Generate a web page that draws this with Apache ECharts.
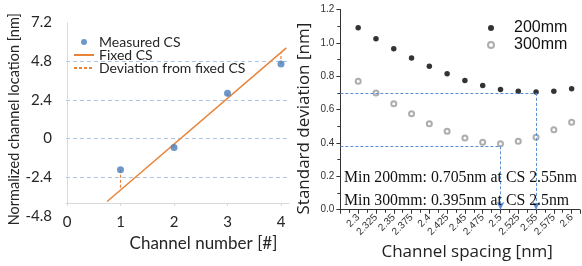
<!DOCTYPE html>
<html><head><meta charset="utf-8">
<script src="https://cdn.jsdelivr.net/npm/echarts@6/dist/echarts.min.js"></script>
<style>html,body{margin:0;padding:0;background:#fff}#c{width:582px;height:266px}</style>
</head><body><div id="c"></div>
<script>
// ---- Left panel data ----
const channelNumbers = [1, 2, 3, 4];
const measuredCS = [-1.93, -0.55, 2.81, 4.62];
const fixedAtChannel = [-3.15, -0.35, 2.5, 5.32];
const fixedLineX = [0.75, 4.1];
const fixedLineY = [-3.9, 5.62];
const leftXTicks = [0, 1, 2, 3, 4];
const leftYTicks = [-4.8, -2.4, 0, 2.4, 4.8, 7.2];
const leftLegend = ['Measured CS', 'Fixed CS', 'Deviation from fixed CS'];

// ---- Right panel data ----
const spacingValues = [2.3, 2.325, 2.35, 2.375, 2.4, 2.425, 2.45, 2.475, 2.5, 2.525, 2.55, 2.575, 2.6];
const spacingLabels = ['2.3', '2.325', '2.35', '2.375', '2.4', '2.425', '2.45', '2.475', '2.5', '2.525', '2.55', '2.575', '2.6'];
const sd200 = [1.09, 1.025, 0.965, 0.91, 0.86, 0.815, 0.775, 0.745, 0.72, 0.71, 0.705, 0.71, 0.725];
const sd300 = [0.77, 0.70, 0.635, 0.575, 0.515, 0.47, 0.43, 0.405, 0.395, 0.41, 0.435, 0.48, 0.525];
const rightYTicks = [0, 0.2, 0.4, 0.6, 0.8, 1.0, 1.2];
const min200CS = 2.55, min200Level = 0.70;
const min300CS = 2.5, min300Level = 0.38;
const noteLines = ['Min 200mm: 0.705nm at CS 2.55nm', 'Min 300mm: 0.395nm at CS 2.5nm'];
const rightLegend = ['200mm', '300mm'];

// ---- layout / style ----
const leftXMin = -0.02, leftXMax = 4.15, leftPxPerUnit = 53.5;
const leftGrid = {left: 67 + leftXMin * leftPxPerUnit, top: 22.4, width: (leftXMax - leftXMin) * leftPxPerUnit, height: 193.6};
const leftYMin = -4.8, leftYMax = 7.2;
const xAxisLift = 13; // px the horizontal axis sits above the plot bottom
const rightXMin = 2.275, rightXMax = 2.6116;
const blue = '#4a7ebb', orange = '#e8843a', gridBlue = '#a9c4e4';
const leftFont = 'Lato, "Open Sans", sans-serif';

const near = (a, b) => Math.abs(a - b) < 1e-6;
const axisCrossVal = leftYMin + xAxisLift * (leftYMax - leftYMin) / leftGrid.height;

const deviationData = [];
channelNumbers.forEach((c, i) => {
  deviationData.push([c, measuredCS[i]], [c, fixedAtChannel[i]], [c, '-']);
});

const chart = echarts.init(document.getElementById('c'), null, {renderer: 'canvas'});
chart.setOption({
  animation: false,
  backgroundColor: '#fff',
  grid: [
    leftGrid,
    {left: 340.4, top: 9.5, right: 1, bottom: 54.3}
  ],
  legend: [
    {
      data: [
        {name: leftLegend[0]},
        {name: leftLegend[1], itemStyle: {opacity: 0}},
        {name: leftLegend[2], itemStyle: {opacity: 0}}
      ],
      orient: 'vertical', left: 73, top: 35, padding: 0,
      itemWidth: 20, itemHeight: 6, itemGap: -1,
      textStyle: {fontFamily: leftFont, fontSize: 14, color: '#262626', lineHeight: 14}
    },
    {
      data: rightLegend, orient: 'vertical', left: 487, top: 20, padding: 0,
      itemWidth: 6, itemHeight: 6, itemGap: 1,
      textStyle: {fontFamily: '"Liberation Sans", Arial, sans-serif', fontSize: 16, color: '#111', padding: [0, 0, 0, 15]}
    }
  ],
  xAxis: [
    {
      gridIndex: 0, type: 'value', min: leftXMin, max: leftXMax, offset: -xAxisLift,
      name: 'Channel number [#]', nameLocation: 'middle', nameGap: 24,
      nameTextStyle: {fontFamily: leftFont, fontSize: 17, color: '#262626', padding: [0, 0, 0, 52]},
      axisLine: {show: true, onZero: false, lineStyle: {color: '#d9d9d9', width: 1}},
      axisTick: {show: true, length: 3, customValues: leftXTicks, lineStyle: {color: '#d9d9d9'}},
      axisLabel: {margin: 12, showMinLabel: true, hideOverlap: false, customValues: leftXTicks,
        fontFamily: leftFont, fontSize: 15, color: '#262626',
        formatter: v => String(Math.round(v))},
      splitLine: {show: false}
    },
    {
      gridIndex: 1, type: 'value', min: rightXMin, max: rightXMax, interval: 0.025,
      name: 'Channel spacing [nm]', nameLocation: 'middle', nameGap: 30,
      nameTextStyle: {fontFamily: '"Open Sans", sans-serif', fontSize: 17, color: '#222', padding: [0, 0, 0, 14]},
      axisLine: {show: true, onZero: false, lineStyle: {color: '#333', width: 1}},
      axisTick: {show: true, length: 4, lineStyle: {color: '#333'}},
      minorTick: {show: true, splitNumber: 2, length: 3, lineStyle: {color: '#333'}},
      axisLabel: {rotate: 45, margin: 6, fontFamily: '"Liberation Sans", Arial, sans-serif', fontSize: 10, color: '#333',
        formatter: v => { const i = spacingValues.findIndex(s => near(s, v)); return i >= 0 ? spacingLabels[i] : ''; }},
      splitLine: {show: false}
    }
  ],
  yAxis: [
    {
      gridIndex: 0, type: 'value', min: leftYMin, max: leftYMax, interval: 2.4,
      name: 'Normalized channel location [nm]', nameLocation: 'middle', nameGap: 37,
      nameTextStyle: {fontFamily: leftFont, fontSize: 14.5, color: '#262626'},
      axisLine: {show: false, onZero: false}, axisTick: {show: false},
      axisLabel: {margin: 14, showMinLabel: true, hideOverlap: false, fontFamily: leftFont, fontSize: 15, color: '#262626',
        formatter: v => { const t = leftYTicks.find(s => near(s, v)); return t === undefined ? '' : (t === 0 ? '0' : t.toFixed(1)); }},
      splitLine: {show: true, lineStyle: {type: [4, 3], width: 1,
        color: ['rgba(0,0,0,0)', gridBlue, gridBlue, gridBlue, gridBlue, 'rgba(0,0,0,0)']}}
    },
    {
      gridIndex: 1, type: 'value', min: 0, max: 1.2, interval: 0.2,
      name: 'Standard deviation [nm]', nameLocation: 'middle', nameGap: 28,
      nameTextStyle: {fontFamily: '"Open Sans", sans-serif', fontSize: 17, color: '#222', padding: [0, 18, 0, 0]},
      axisLine: {show: true, onZero: false, lineStyle: {color: '#333', width: 1}},
      axisTick: {show: true, length: 4, lineStyle: {color: '#333'}},
      minorTick: {show: true, splitNumber: 2, length: 3, lineStyle: {color: '#333'}},
      axisLabel: {margin: 6, fontFamily: '"Liberation Sans", Arial, sans-serif', fontSize: 10, color: '#333',
        formatter: v => { const t = rightYTicks.find(s => near(s, v)); return t === undefined ? '' : t.toFixed(1); }},
      splitLine: {show: false}
    }
  ],
  series: [
    {
      name: leftLegend[1], type: 'line', xAxisIndex: 0, yAxisIndex: 0,
      data: fixedLineX.map((x, i) => [x, fixedLineY[i]]),
      symbol: 'none', lineStyle: {color: orange, width: 1.5}, itemStyle: {color: orange}, z: 3,
      markLine: {
        silent: true, symbol: ['none', 'none'], label: {show: false},
        lineStyle: {color: '#d9d9d9', type: 'solid', width: 1},
        data: [[{coord: [0, leftYMax]}, {coord: [0, axisCrossVal]}]]
      }
    },
    {
      name: leftLegend[2], type: 'line', xAxisIndex: 0, yAxisIndex: 0,
      data: deviationData, connectNulls: false,
      symbol: 'none', lineStyle: {color: orange, width: 1.2, type: [3, 2]}, itemStyle: {color: orange}, z: 2
    },
    {
      name: leftLegend[0], type: 'scatter', xAxisIndex: 0, yAxisIndex: 0,
      data: channelNumbers.map((c, i) => [c, measuredCS[i]]),
      symbol: 'circle', symbolSize: 7, itemStyle: {color: blue}, z: 4
    },
    {
      name: rightLegend[0], type: 'scatter', xAxisIndex: 1, yAxisIndex: 1,
      data: spacingValues.map((s, i) => [s, sd200[i]]),
      symbol: 'circle', symbolSize: 5.5, itemStyle: {color: '#000'}, z: 4,
      markLine: {
        silent: true, symbol: ['none', 'none'], label: {show: false},
        lineStyle: {color: '#5b8fd0', type: [3, 2], width: 1},
        data: [
          [{coord: [rightXMin, min200Level]}, {coord: [min200CS, min200Level]}],
          [{coord: [min200CS, min200Level]}, {coord: [min200CS, 0], symbol: 'arrow', symbolSize: [6, 8]}],
          [{coord: [rightXMin, min300Level]}, {coord: [min300CS, min300Level]}],
          [{coord: [min300CS, min300Level]}, {coord: [min300CS, 0], symbol: 'arrow', symbolSize: [6, 8]}]
        ]
      }
    },
    {
      name: rightLegend[1], type: 'scatter', xAxisIndex: 1, yAxisIndex: 1,
      data: spacingValues.map((s, i) => [s, sd300[i]]),
      symbol: 'emptyCircle', symbolSize: 5, itemStyle: {color: '#999', borderColor: '#999', borderWidth: 1}, z: 4
    }
  ],
  graphic: noteLines.map((t, i) => ({
    type: 'text', left: 344, top: 170 + i * 23, z: 10, silent: true,
    style: {text: t, fontFamily: '"Liberation Serif", "Times New Roman", serif', fontSize: 15.8, fill: '#111'}
  }))
});
</script>
</body></html>
